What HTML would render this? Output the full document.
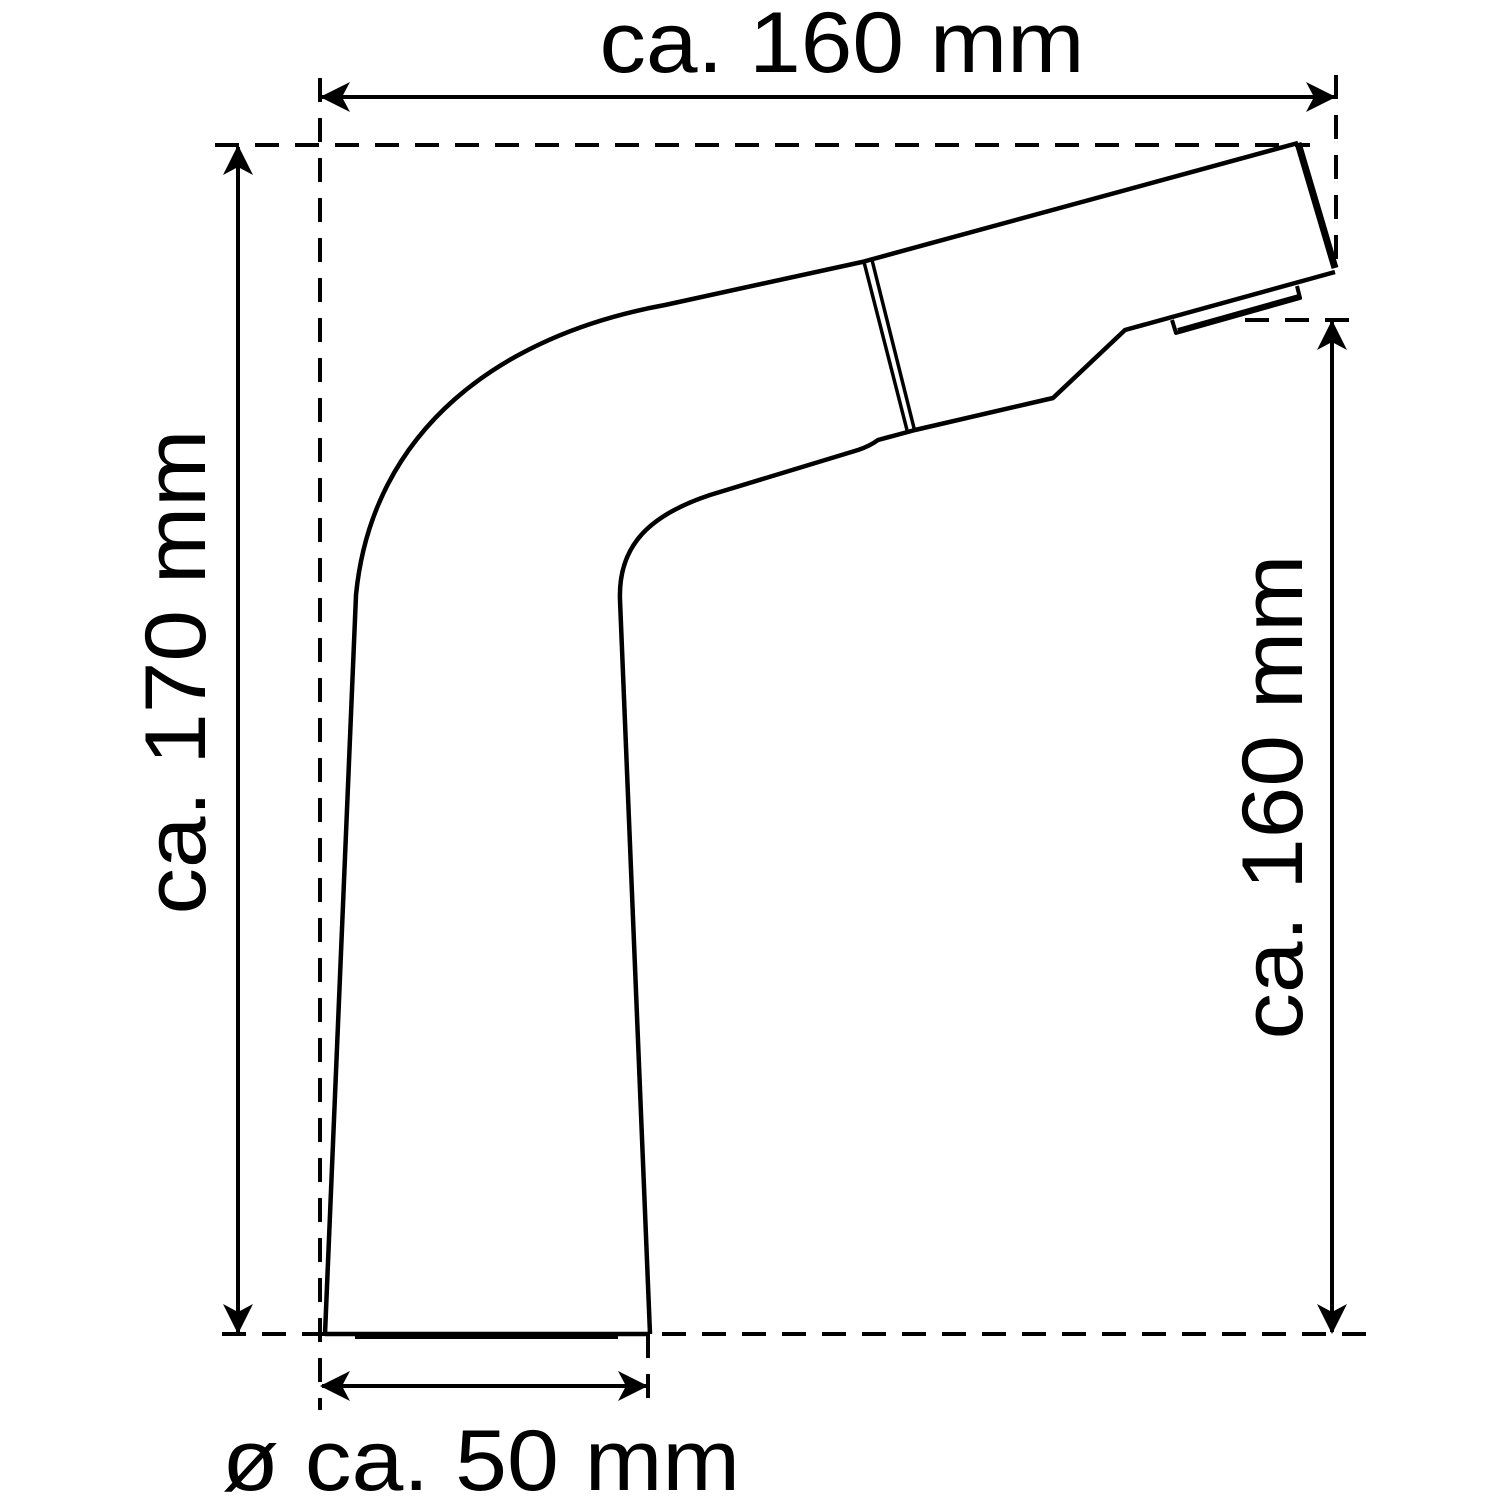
<!DOCTYPE html>
<html><head><meta charset="utf-8"><style>html,body{margin:0;padding:0;background:#fff}svg{display:block}</style></head>
<body>
<svg width="1500" height="1500" viewBox="0 0 1500 1500" xmlns="http://www.w3.org/2000/svg">
<defs>
<marker id="ah" viewBox="0 0 30 30" refX="28" refY="15" markerWidth="30" markerHeight="30" markerUnits="userSpaceOnUse" orient="auto-start-reverse">
<path d="M0,0 L30,15 L0,30 L8,15 Z" fill="#000"/>
</marker>
</defs>
<g stroke="#000" stroke-width="4" stroke-dasharray="24,16" fill="none">
<line x1="215" y1="145" x2="1310" y2="145"/>
<line x1="320" y1="78" x2="320" y2="1410"/>
<line x1="1336" y1="75" x2="1336" y2="275"/>
<line x1="222" y1="1334" x2="1368" y2="1334"/>
<line x1="1245" y1="320" x2="1362" y2="320"/>
<line x1="648" y1="1334" x2="648" y2="1410"/>
</g>
<g stroke="#000" stroke-width="4" fill="none">
<line x1="322" y1="97" x2="1334" y2="97" marker-start="url(#ah)" marker-end="url(#ah)"/>
<line x1="238" y1="147" x2="238" y2="1332" marker-start="url(#ah)" marker-end="url(#ah)"/>
<line x1="1332" y1="322" x2="1332" y2="1332" marker-start="url(#ah)" marker-end="url(#ah)"/>
<line x1="322" y1="1386" x2="646" y2="1386" marker-start="url(#ah)" marker-end="url(#ah)"/>
</g>
<g stroke="#000" stroke-width="4.5" fill="none" stroke-linejoin="round">
<path d="M325,1334 L356,595 C372,430 500,335 665,305 L862,262 L1298,143"/>
<path d="M1298,143 L1335,268" stroke-width="7"/>
<path d="M1335,272 L1125,330 L1053,398 L915,430 L878,440 Q870,446 858,450 L710,495 C650,515 618,545 620,600 L650,1334"/>
<path d="M325,1334 L650,1334"/>
<path d="M355,1336 L618,1336" stroke-width="6"/>
<path d="M864,262 L908,434" stroke-width="3.5"/>
<path d="M872,260 L915,432" stroke-width="3.5"/>
<path d="M1172,320 L1176,333 L1300,298 L1297,286" stroke-width="4"/>
<path d="M1178,331 L1299,297" stroke-width="6"/>
</g>
<g font-family="'Liberation Sans', sans-serif" font-size="86" fill="#000">
<text x="842" y="72" text-anchor="middle" textLength="485" lengthAdjust="spacingAndGlyphs">ca. 160 mm</text>
<text transform="translate(205,672) rotate(-90)" text-anchor="middle" textLength="485" lengthAdjust="spacingAndGlyphs">ca. 170 mm</text>
<text transform="translate(1302,797) rotate(-90)" text-anchor="middle" textLength="485" lengthAdjust="spacingAndGlyphs">ca. 160 mm</text>
<text x="481" y="1490" text-anchor="middle" textLength="518" lengthAdjust="spacingAndGlyphs">ø ca. 50 mm</text>
</g>
</svg>
</body></html>
